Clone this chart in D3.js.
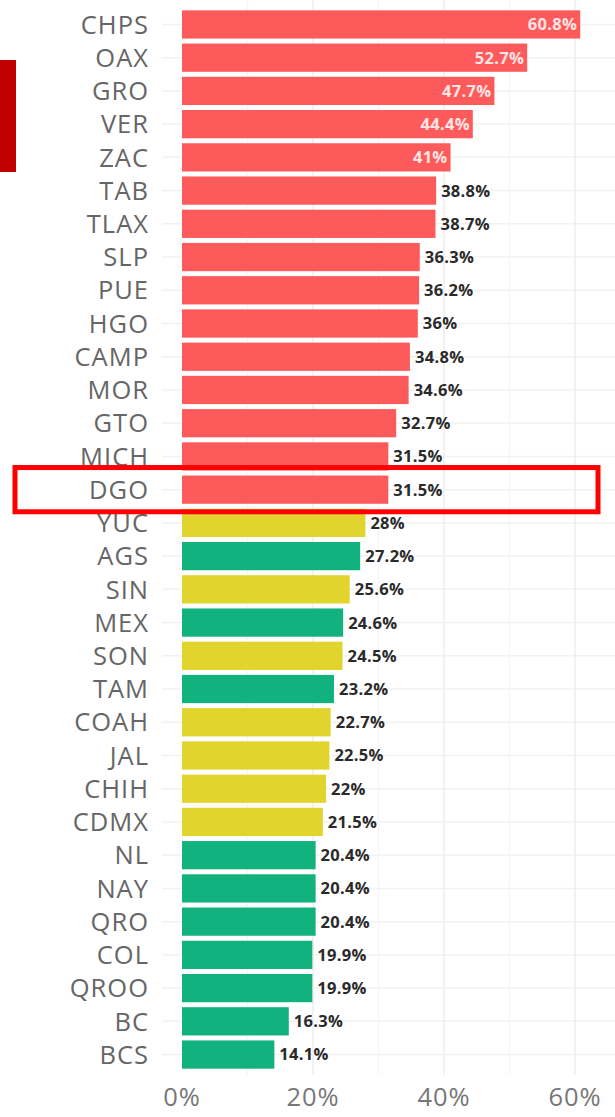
<!DOCTYPE html>
<html>
<head>
<meta charset="utf-8">
<script src="https://cdn.jsdelivr.net/npm/d3@7"></script>
<style>
  body { margin: 0; background: #fff; }
  svg { display: block; }
</style>
</head>
<body>
<svg id="chart"></svg>
<script>
const width = 615;
const height = 1117;

const states = ["CHPS","OAX","GRO","VER","ZAC","TAB","TLAX","SLP","PUE","HGO","CAMP","MOR","GTO","MICH","DGO",
  "YUC","AGS","SIN","MEX","SON","TAM","COAH","JAL","CHIH","CDMX","NL","NAY","QRO","COL","QROO","BC","BCS"];
const values = [60.8,52.7,47.7,44.4,41,38.8,38.7,36.3,36.2,36,34.8,34.6,32.7,31.5,31.5,
  28,27.2,25.6,24.6,24.5,23.2,22.7,22.5,22,21.5,20.4,20.4,20.4,19.9,19.9,16.3,14.1];
const groups = ["r","r","r","r","r","r","r","r","r","r","r","r","r","r","r",
  "y","g","y","g","y","g","y","y","y","y","g","g","g","g","g","g","g"];
const xTicks = [0, 20, 40, 60];
const highlight = "DGO";

const data = states.map((s, i) => ({ state: s, value: values[i], group: groups[i] }));

const color = d3.scaleOrdinal()
  .domain(["r", "y", "g"])
  .range(["#fd5b5b", "#e1d42c", "#12b27f"]);

const margin = { top: 8, right: 40, bottom: 46, left: 182 };

const x = d3.scaleLinear()
  .domain([0, 60])
  .range([margin.left, 575]);

const y = d3.scaleBand()
  .domain(states)
  .range([margin.top, height - margin.bottom])
  .paddingInner(0.15)
  .paddingOuter(0.07);

const svg = d3.select("#chart")
  .attr("width", width)
  .attr("height", height);

// grid
const grid = svg.append("g");
grid.selectAll("line.h")
  .data(states)
  .enter().append("line")
  .attr("x1", margin.left - 20)
  .attr("x2", width)
  .attr("y1", d => y(d) + y.bandwidth() / 2)
  .attr("y2", d => y(d) + y.bandwidth() / 2)
  .style("stroke", "#f2f2f2")
  .style("stroke-width", 1.5);

grid.selectAll("line.v")
  .data([10, 20, 30, 40, 50, 60])
  .enter().append("line")
  .attr("x1", d => x(d))
  .attr("x2", d => x(d))
  .attr("y1", 0)
  .attr("y2", height - margin.bottom + 4)
  .style("stroke", d => d % 20 === 0 ? "#eeeeee" : "#f6f6f6")
  .style("stroke-width", 1.5);

// bars
svg.append("g").selectAll("rect")
  .data(data)
  .enter().append("rect")
  .attr("x", x(0))
  .attr("y", d => y(d.state))
  .attr("width", d => x(d.value) - x(0))
  .attr("height", y.bandwidth())
  .style("fill", d => color(d.group));

// value labels
const fmt = v => (Number.isInteger(v) ? v : v.toFixed(1)) + "%";
svg.append("g").selectAll("text")
  .data(data)
  .enter().append("text")
  .attr("x", d => d.value > 40 ? x(d.value) - 3 : x(d.value) + 5)
  .attr("y", d => y(d.state) + y.bandwidth() / 2)
  .attr("dy", "0.36em")
  .attr("text-anchor", d => d.value > 40 ? "end" : "start")
  .style("font-family", "'Open Sans', sans-serif")
  .style("font-weight", 700)
  .style("font-size", "16.5px")
  .style("letter-spacing", "0.3px")
  .style("fill", d => d.value > 40 ? "#ffe4e4" : "#2a2a2a")
  .text(d => fmt(d.value));

// category labels
svg.append("g").selectAll("text")
  .data(states)
  .enter().append("text")
  .attr("x", 149)
  .attr("y", d => y(d) + y.bandwidth() / 2)
  .attr("dy", "0.36em")
  .attr("text-anchor", "end")
  .style("font-family", "'Open Sans', sans-serif")
  .style("font-size", "25.5px")
  .style("letter-spacing", "1px")
  .style("fill", "#666")
  .text(d => d);

// x axis labels
svg.append("g").selectAll("text")
  .data(xTicks)
  .enter().append("text")
  .attr("x", d => x(d))
  .attr("y", 1097)
  .attr("dy", "0.36em")
  .attr("text-anchor", "middle")
  .style("font-family", "'Open Sans', sans-serif")
  .style("font-size", "25.5px")
  .style("letter-spacing", "1px")
  .style("fill", "#777")
  .text(d => d + "%");

// highlight box
svg.append("rect")
  .attr("x", 15)
  .attr("y", y(highlight) - 8)
  .attr("width", 583)
  .attr("height", y.bandwidth() + 16)
  .style("fill", "none")
  .style("stroke", "#ff0000")
  .style("stroke-width", 5);

// red marker at left
svg.append("rect")
  .attr("x", 0)
  .attr("y", 60)
  .attr("width", 16)
  .attr("height", 112)
  .style("fill", "#c00000");
</script>
</body>
</html>
